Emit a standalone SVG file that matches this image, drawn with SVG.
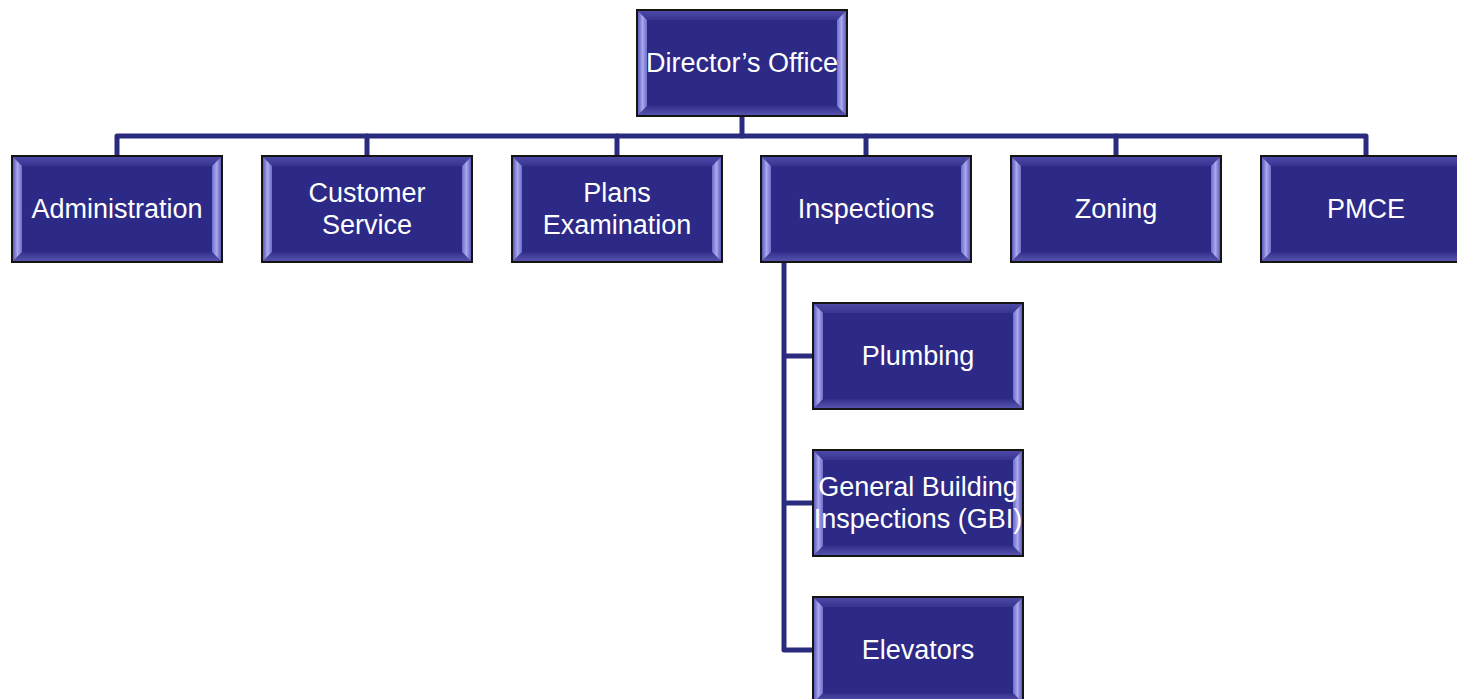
<svg xmlns="http://www.w3.org/2000/svg" xmlns:xlink="http://www.w3.org/1999/xlink" width="1457" height="699" viewBox="0 0 1457 699">
<style>
.lbl{font-family:"Liberation Sans",Arial,sans-serif;font-size:27px;fill:#ffffff;text-anchor:middle;dominant-baseline:central}
.conn{fill:none;stroke:#2a2a7e;stroke-width:5;stroke-linejoin:round;stroke-linecap:round}
</style>
<defs>
<linearGradient id="gl" x1="0" y1="0" x2="1" y2="0">
<stop offset="0" stop-color="#5c5bb8"/><stop offset="0.5" stop-color="#a9a8ee"/><stop offset="1" stop-color="#6e6dc8"/>
</linearGradient>
<linearGradient id="gr" x1="0" y1="0" x2="1" y2="0">
<stop offset="0" stop-color="#6e6dc8"/><stop offset="0.5" stop-color="#a9a8ee"/><stop offset="1" stop-color="#5c5bb8"/>
</linearGradient>
<linearGradient id="gt" x1="0" y1="0" x2="0" y2="1">
<stop offset="0" stop-color="#4c4aa6"/><stop offset="1" stop-color="#36348f"/>
</linearGradient>
<linearGradient id="gb" x1="0" y1="0" x2="0" y2="1">
<stop offset="0" stop-color="#32308b"/><stop offset="1" stop-color="#5553ae"/>
</linearGradient>
<g id="box">
<rect x="0" y="0" width="210" height="106" fill="#2c2a86" stroke="#141414" stroke-width="2"/>
<polygon points="1,1 209,1 200,10 10,10" fill="url(#gt)"/>
<polygon points="1,105 209,105 200,96 10,96" fill="url(#gb)"/>
<polygon points="1,1 10,10 10,96 1,105" fill="url(#gl)"/>
<polygon points="209,1 200,10 200,96 209,105" fill="url(#gr)"/>
<rect x="10" y="10" width="190" height="86" fill="#2c2a86"/>
</g>
</defs>
<g id="connectors">
<path class="conn" d="M742,116 V136"/>
<path class="conn" d="M117,156 V136 H1366 V156"/>
<path class="conn" d="M367,136 V156 M617,136 V156 M866,136 V156 M1116,136 V156"/>
<path class="conn" d="M784,263 V650 H813 M784,356 H813 M784,503 H813"/>
</g>
<g id="director"><use xlink:href="#box" x="637" y="10"/><text class="lbl" x="742" y="63">Director’s Office</text></g>
<g id="administration"><use xlink:href="#box" x="12" y="156"/><text class="lbl" x="117" y="209">Administration</text></g>
<g id="customer-service"><use xlink:href="#box" x="262" y="156"/><text class="lbl" x="367" y="193">Customer</text><text class="lbl" x="367" y="225">Service</text></g>
<g id="plans-examination"><use xlink:href="#box" x="512" y="156"/><text class="lbl" x="617" y="193">Plans</text><text class="lbl" x="617" y="225">Examination</text></g>
<g id="inspections"><use xlink:href="#box" x="761" y="156"/><text class="lbl" x="866" y="209">Inspections</text></g>
<g id="zoning"><use xlink:href="#box" x="1011" y="156"/><text class="lbl" x="1116" y="209">Zoning</text></g>
<g id="pmce"><use xlink:href="#box" x="1261" y="156"/><text class="lbl" x="1366" y="209">PMCE</text></g>
<g id="plumbing"><use xlink:href="#box" x="813" y="303"/><text class="lbl" x="918" y="356">Plumbing</text></g>
<g id="gbi"><use xlink:href="#box" x="813" y="450"/><text class="lbl" x="918" y="487">General Building</text><text class="lbl" x="918" y="519">Inspections (GBI)</text></g>
<g id="elevators"><use xlink:href="#box" x="813" y="597"/><text class="lbl" x="918" y="650">Elevators</text></g>
</svg>
